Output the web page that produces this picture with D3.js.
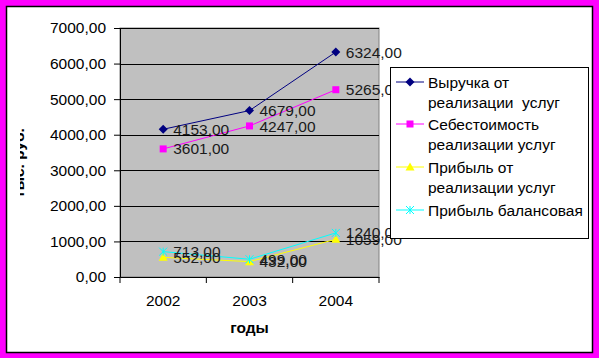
<!DOCTYPE html>
<html>
<head>
<meta charset="utf-8">
<script src="https://cdn.jsdelivr.net/npm/d3@7"></script>
<style>
  body { margin: 0; background: #fff; }
  text { font-family: "Liberation Sans", Arial, sans-serif; }
</style>
</head>
<body>
<div class="chart"></div>
<script>
var years = ["2002", "2003", "2004"];
var revenue = [4153, 4679, 6324];
var cost = [3601, 4247, 5265];
var salesProfit = [552, 432, 1059];
var balanceProfit = [713, 499, 1240];
var seriesNames = [
  ["Выручка от", "реализации  услуг"],
  ["Себестоимость", "реализации услуг"],
  ["Прибыль от", "реализации услуг"],
  ["Прибыль балансовая"]
];
var yTicks = [0, 1000, 2000, 3000, 4000, 5000, 6000, 7000];

var svgWidth = 599;
var svgHeight = 358;

var plot = { left: 120, right: 379, top: 28, bottom: 277 };

var series = [
  { name: seriesNames[0], values: revenue, color: "#000080", marker: "diamond" },
  { name: seriesNames[1], values: cost, color: "#FF00FF", marker: "square" },
  { name: seriesNames[2], values: salesProfit, color: "#FFFF00", marker: "triangle" },
  { name: seriesNames[3], values: balanceProfit, color: "#00FFFF", marker: "star" }
];

var fmt = d => d.toFixed(2).replace(".", ",");

var svg = d3.select(".chart")
  .append("svg")
  .attr("width", svgWidth)
  .attr("height", svgHeight);

// Frame: magenta border, white chart area
svg.append("rect")
  .attr("width", svgWidth).attr("height", svgHeight)
  .attr("fill", "#FF00FF");
svg.append("rect")
  .attr("x", 6.5).attr("y", 6.5)
  .attr("width", 586).attr("height", 346)
  .attr("fill", "#fff").attr("stroke", "#000").attr("stroke-width", 1.5);

var xScale = d3.scaleBand()
  .domain(years)
  .range([plot.left, plot.right]);

var yScale = d3.scaleLinear()
  .domain([0, 7000])
  .range([plot.bottom, plot.top]);

var cx = d => xScale(d) + xScale.bandwidth() / 2;

// Plot area
svg.append("rect")
  .attr("x", plot.left).attr("y", plot.top)
  .attr("width", plot.right - plot.left).attr("height", plot.bottom - plot.top)
  .attr("fill", "#C0C0C0").attr("stroke", "#808080");

// Gridlines
svg.append("g")
  .selectAll("line")
  .data(yTicks.slice(1))
  .enter()
  .append("line")
  .attr("x1", plot.left).attr("x2", plot.right)
  .attr("y1", d => Math.round(yScale(d)) + 0.5)
  .attr("y2", d => Math.round(yScale(d)) + 0.5)
  .attr("stroke", "#000");

// Axes
var leftAxis = d3.axisLeft(yScale)
  .tickValues(yTicks)
  .tickSize(6)
  .tickPadding(8)
  .tickFormat(fmt);

var yAxisG = svg.append("g")
  .attr("transform", `translate(${plot.left}, 0)`)
  .call(leftAxis);
yAxisG.select(".domain").attr("stroke", "#000");
yAxisG.selectAll("text")
  .attr("font-size", "15.5px")
  .attr("fill", "#000")
  .attr("font-family", "Liberation Sans, Arial, sans-serif");

var xAxisG = svg.append("g")
  .attr("transform", `translate(0, ${plot.bottom})`)
  .call(d3.axisBottom(xScale).tickSize(0).tickPadding(18));
xAxisG.select(".domain").attr("stroke", "#000");
xAxisG.selectAll("text")
  .attr("font-size", "15.5px")
  .attr("fill", "#000")
  .attr("font-family", "Liberation Sans, Arial, sans-serif");

// category boundary ticks
xAxisG.selectAll(".bound")
  .data(years.concat(["end"]))
  .enter()
  .append("line")
  .attr("x1", (d, i) => i < years.length ? xScale(d) : xScale.range()[1])
  .attr("x2", (d, i) => i < years.length ? xScale(d) : xScale.range()[1])
  .attr("y1", 0).attr("y2", 6)
  .attr("stroke", "#000");

// Axis titles
svg.append("text")
  .attr("x", cx("2003"))
  .attr("y", 333)
  .attr("text-anchor", "middle")
  .attr("font-size", "15.5px")
  .attr("font-weight", "bold")
  .text("годы");

// y title is cut off at the left in the original
svg.append("clipPath").attr("id", "ylab-clip")
  .append("rect").attr("x", 20).attr("y", 0).attr("width", 40).attr("height", svgHeight);

svg.append("g")
  .attr("clip-path", "url(#ylab-clip)")
  .append("text")
  .attr("transform", "translate(24, 163) rotate(-90)")
  .attr("text-anchor", "middle")
  .attr("font-size", "15.5px")
  .attr("font-weight", "bold")
  .text("тыс. руб.");

// Lines and markers
var line = d3.line()
  .x((d, i) => cx(years[i]))
  .y(d => yScale(d));

function drawMarker(g, type, color, x, y) {
  if (type === "diamond") {
    g.append("path")
      .attr("d", `M${x},${y - 4.5}L${x + 4.5},${y}L${x},${y + 4.5}L${x - 4.5},${y}Z`)
      .attr("fill", color);
  } else if (type === "square") {
    g.append("rect")
      .attr("x", x - 3.5).attr("y", y - 3.5)
      .attr("width", 7).attr("height", 7)
      .attr("fill", color);
  } else if (type === "triangle") {
    g.append("path")
      .attr("d", `M${x},${y - 4.5}L${x + 4.5},${y + 3.5}L${x - 4.5},${y + 3.5}Z`)
      .attr("fill", color);
  } else {
    g.append("path")
      .attr("d", `M${x - 4},${y - 4}L${x + 4},${y + 4}M${x - 4},${y + 4}L${x + 4},${y - 4}M${x},${y - 4}L${x},${y + 4}`)
      .attr("stroke", color)
      .attr("fill", "none");
  }
}

var seriesG = svg.append("g");
series.forEach(function(s) {
  seriesG.append("path")
    .datum(s.values)
    .attr("d", line)
    .attr("fill", "none")
    .attr("stroke", s.color)
    .attr("stroke-width", 1);
  s.values.forEach(function(v, i) {
    drawMarker(seriesG, s.marker, s.color, cx(years[i]), yScale(v));
  });
});

// Data labels (they overlap in the original as well)
series.forEach(function(s) {
  svg.append("g")
    .selectAll("text")
    .data(s.values)
    .enter()
    .append("text")
    .attr("x", (d, i) => cx(years[i]) + 10)
    .attr("y", d => yScale(d))
    .attr("dy", "0.36em")
    .attr("font-size", "15.5px")
    .attr("fill", "#1a1a1a")
    .text(fmt);
});

// Legend
var legend = svg.append("g");
legend.append("rect")
  .attr("x", 390.5).attr("y", 67.5)
  .attr("width", 198).attr("height", 171)
  .attr("fill", "#fff").attr("stroke", "#000");

var legendY = [82, 124, 167, 210];
series.forEach(function(s, k) {
  var y = legendY[k];
  legend.append("line")
    .attr("x1", 396).attr("x2", 424)
    .attr("y1", y).attr("y2", y)
    .attr("stroke", s.color);
  drawMarker(legend, s.marker, s.color, 410, y);
  s.name.forEach(function(t, j) {
    legend.append("text")
      .attr("x", 428)
      .attr("y", y + j * 20)
      .attr("dy", "0.36em")
      .attr("font-size", "15.5px")
      .attr("xml:space", "preserve")
      .style("white-space", "pre")
      .text(t);
  });
});
</script>
</body>
</html>
